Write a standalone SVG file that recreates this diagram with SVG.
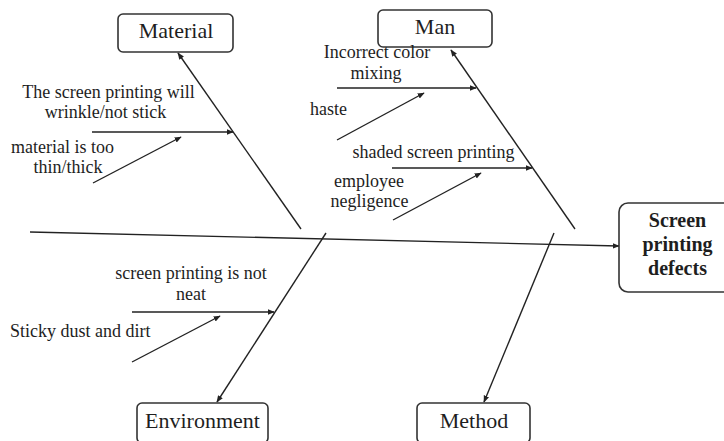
<svg xmlns="http://www.w3.org/2000/svg" width="724" height="441" viewBox="0 0 724 441">
<defs>
<marker id="ah" viewBox="0 0 10 10" refX="9" refY="5" markerWidth="7" markerHeight="7" markerUnits="userSpaceOnUse" orient="auto">
<path d="M0,1 L10,5 L0,9 z" fill="#222"/>
</marker>
<style>
.box{fill:#fff;stroke:#333;stroke-width:1.6}
.ln{stroke:#222;stroke-width:1.4;fill:none;marker-end:url(#ah)}
text{font-family:'Liberation Serif','Times New Roman',serif;fill:#1e1e1e}
.lbl{font-size:18px}
.cat{font-size:22px;text-anchor:middle}
.eff{font-size:20px;font-weight:bold;text-anchor:middle}
.c{text-anchor:middle}
</style>
</defs>
<rect width="724" height="441" fill="#fff"/>
<g id="connectors">
<line class="ln" x1="30" y1="232" x2="619" y2="246"/>
<line class="ln" x1="301" y1="229" x2="178" y2="53"/>
<line class="ln" x1="575" y1="229" x2="451" y2="50"/>
<line class="ln" x1="326" y1="233" x2="217" y2="402"/>
<line class="ln" x1="554" y1="233" x2="484" y2="402"/>
<line class="ln" x1="92" y1="132" x2="233" y2="132"/>
<line class="ln" x1="93" y1="183" x2="181" y2="137"/>
<line class="ln" x1="337" y1="88" x2="476" y2="88"/>
<line class="ln" x1="337" y1="140" x2="424" y2="93"/>
<line class="ln" x1="392" y1="168" x2="532" y2="168"/>
<line class="ln" x1="393" y1="220" x2="481" y2="173"/>
<line class="ln" x1="132" y1="312" x2="274" y2="312"/>
<line class="ln" x1="132" y1="362" x2="220" y2="316"/>
</g>
<g id="material">
<rect class="box" x="118" y="14" width="115" height="38" rx="5"/>
<text class="cat" x="176" y="38">Material</text>
</g>
<g id="man">
<rect class="box" x="378" y="10" width="114" height="37" rx="5"/>
<text class="cat" x="435" y="34">Man</text>
</g>
<g id="environment">
<rect class="box" x="137" y="403" width="131" height="40" rx="5"/>
<text class="cat" x="202.5" y="428">Environment</text>
</g>
<g id="method">
<rect class="box" x="417" y="403" width="113" height="40" rx="5"/>
<text class="cat" x="474" y="428">Method</text>
</g>
<g id="effect">
<rect class="box" x="619" y="203" width="115" height="89" rx="9"/>
<text class="eff" x="677.5" y="227">Screen</text>
<text class="eff" x="677.5" y="251">printing</text>
<text class="eff" x="677.5" y="275">defects</text>
</g>
<g id="cause-wrinkle">
<text class="lbl c" x="108.5" y="98">The screen printing will</text>
<text class="lbl c" x="105.5" y="118">wrinkle/not stick</text>
</g>
<g id="cause-thin">
<text class="lbl c" x="62.5" y="153">material is too</text>
<text class="lbl c" x="68" y="173">thin/thick</text>
</g>
<g id="cause-color">
<text class="lbl c" x="377" y="58">Incorrect color</text>
<text class="lbl c" x="376" y="79">mixing</text>
</g>
<g id="cause-haste">
<text class="lbl" x="310" y="115">haste</text>
</g>
<g id="cause-shaded">
<text class="lbl c" x="433.5" y="158">shaded screen printing</text>
</g>
<g id="cause-negligence">
<text class="lbl c" x="369" y="187">employee</text>
<text class="lbl c" x="369.5" y="207">negligence</text>
</g>
<g id="cause-neat">
<text class="lbl c" x="191" y="279">screen printing is not</text>
<text class="lbl c" x="191" y="300">neat</text>
</g>
<g id="cause-dust">
<text class="lbl" x="10" y="337">Sticky dust and dirt</text>
</g>
</svg>
